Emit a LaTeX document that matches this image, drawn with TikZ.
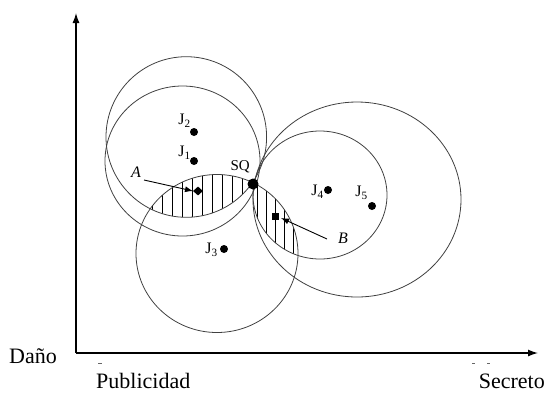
\documentclass[tikz,border=0pt]{standalone}
\usepackage{fontspec}
\setmainfont{Liberation Serif}
\usetikzlibrary{arrows.meta,shapes.geometric}
\begin{document}
\begin{tikzpicture}[x=1pt,y=-1pt,
  axis/.style={line width=1.3pt,-{Latex[length=10pt,width=7pt]}},
  curve/.style={line width=0.8pt,draw=black!75},
  hatch/.style={line width=0.7pt,black},
  ideal/.style={circle,fill=black,inner sep=0pt,minimum size=8pt},
  sqdot/.style={circle,fill=black,inner sep=0pt,minimum size=11pt},
  jlbl/.style={inner sep=0pt,anchor=east,font=\fontsize{16}{18}\selectfont},
  axlbl/.style={inner sep=0pt,font=\fontsize{22}{24}\selectfont},
  ptlbl/.style={inner sep=0pt,anchor=base west,font=\fontsize{16}{18}\selectfont\itshape},
  pointer/.style={line width=0.9pt,-{Latex[length=8pt,width=6pt]}}]
\useasboundingbox (0,0) rectangle (546,392);

% axes
\coordinate (O) at (76,353);
\coordinate (ytop) at (76,13);
\coordinate (xend) at (538,353);
\draw[axis] (O) -- (ytop);
\draw[axis] (O) -- (xend);

% hatched win-set lenses
\begin{scope}
  \clip (186.3,137) circle (80.3);
  \clip (217,253.5) ellipse (81 and 79);
  \foreach \x in {152,162,...,260} \draw[hatch] (\x,150) -- (\x,260);
\end{scope}
\begin{scope}
  \clip (320,195) ellipse (67 and 64);
  \clip (217,253.5) ellipse (81 and 79);
  \foreach \x in {257,266,...,300} \draw[hatch] (\x,170) -- (\x,270);
\end{scope}

% indifference curves through the status quo
\draw[curve] (186.3,137) circle (80.3);
\draw[curve] (182.5,161) ellipse (77.5 and 75);
\draw[curve] (217,253.5) ellipse (81 and 79);
\draw[curve] (320,195) ellipse (67 and 64);
\draw[curve] (357,199.5) ellipse (104 and 97.5);

% ideal points and status quo
\node[ideal] (j2) at (194,132) {};
\node[ideal] (j1) at (194,161) {};
\node[ideal] (j3) at (224,249) {};
\node[ideal] (j4) at (328,190) {};
\node[ideal] (j5) at (372,206) {};
\node[sqdot] (sq) at (253,184) {};

\node[jlbl] (l2) at (191,121) {J\textsubscript{2}};
\node[jlbl] (l1) at (191,153) {J\textsubscript{1}};
\node[jlbl] (l3) at (218,250) {J\textsubscript{3}};
\node[jlbl] (l4) at (324,192) {J\textsubscript{4}};
\node[jlbl] (l5) at (368,193) {J\textsubscript{5}};
\node[inner sep=0pt,anchor=base east,font=\fontsize{15}{17}\selectfont] (lsq) at (250,170) {SQ};

% points A and B with pointers
\node[ptlbl] (la) at (131,177) {A};
\node[ptlbl] (lb) at (338,243) {B};
\coordinate (aStart) at (144,180);
\coordinate (aTip) at (193,191);
\coordinate (bStart) at (327,239);
\coordinate (bTip) at (281,218);
\node[diamond,fill=black,inner sep=0pt,minimum width=10pt,minimum height=9pt] (pa) at (198,191) {};
\node[rectangle,fill=black,inner sep=0pt,minimum size=7pt] (pb) at (275,216) {};
\draw[pointer] (aStart) -- (aTip);
\draw[pointer] (bStart) -- (bTip);

% axis labels
\node[axlbl,anchor=base west] (dano) at (9,363) {Daño};
\node[axlbl,anchor=base west] (pub) at (96,388) {Publicidad};
\node[axlbl,anchor=base east] (sec) at (545,388) {Secreto};

% small marks under the horizontal axis
\draw[line width=1pt,black!60] (98,363) -- (102,363);
\draw[line width=1pt,black!60] (472,363) -- (475,363);
\draw[line width=1pt,black!60] (487,363) -- (490,363);
\end{tikzpicture}
\end{document}
